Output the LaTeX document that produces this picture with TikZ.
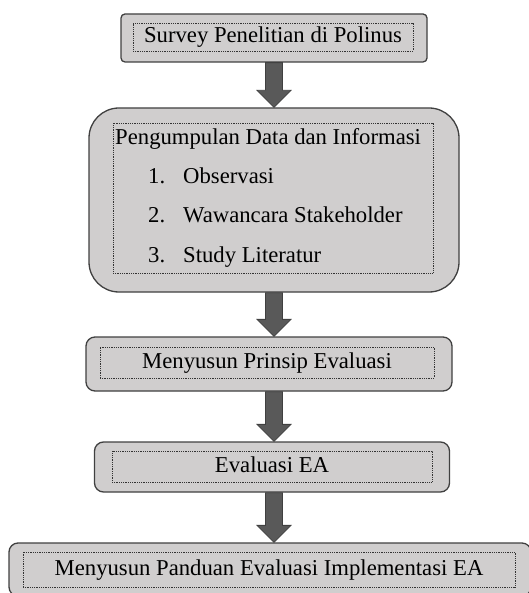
\documentclass[tikz,border=0pt]{standalone}
\usepackage{fontspec}
\setmainfont{Liberation Serif}
\usetikzlibrary{calc}

\definecolor{boxgray}{HTML}{D0CECE}
\definecolor{edgegray}{HTML}{404040}
\definecolor{arrowgray}{HTML}{595959}

% block arrow from the bottom of one box to the top of the next
\newcommand{\flowarrow}[2]{%
  \coordinate (tail) at (#1.south -| spine);
  \coordinate (tip) at (#2.north -| spine);
  \filldraw[blockarrow] ($(tail)+(-8.5,0)$) -- ($(tip)+(-8.5,-17)$) -- ($(tip)+(-17,-17)$) -- (tip)
    -- ($(tip)+(17,-17)$) -- ($(tip)+(8.5,-17)$) -- ($(tail)+(8.5,0)$) -- cycle;}

\begin{document}
\begin{tikzpicture}[x=1pt, y=-1pt,
    outerbox/.style={draw=edgegray, line width=1.3pt, fill=boxgray, rounded corners=9pt, inner sep=0pt},
    dotbox/.style={draw=black!80, densely dotted, line width=0.8pt, inner sep=0pt, text height=16pt, text depth=5pt},
    blockarrow/.style={fill=arrowgray, draw=edgegray, line width=0.8pt},
    font=\fontsize{22.7}{27}\selectfont]
  \useasboundingbox (0,0) rectangle (528,593);
  \coordinate (spine) at (274,0);

  % Boxes
  \node[outerbox, rounded corners=4pt, minimum width=306pt, minimum height=48pt] (survey) at (274,38) {};
  \node[dotbox, minimum width=280pt, minimum height=28pt] (survey-in) at (273,37) {Survey Penelitian di Polinus};

  \node[outerbox, rounded corners=30pt, minimum width=370pt, minimum height=184pt] (data) at (274,200) {};
  \node[dotbox, minimum width=320pt, minimum height=150pt] (data-in) at (273,198) {};
  \node[anchor=base west, inner sep=0pt] (data-title) at (115,145) {Pengumpulan Data dan Informasi};
  \foreach \txt [count=\n] in {Observasi, Wawancara Stakeholder, Study Literatur} {
    \node[anchor=base west, inner sep=0pt] (num-\n) at (148,145+39*\n) {\n.};
    \node[anchor=base west, inner sep=0pt] (item-\n) at (183,145+39*\n) {\txt};
  }

  \node[outerbox, minimum width=366pt, minimum height=54pt] (prinsip) at (269,364) {};
  \node[dotbox, minimum width=334pt, minimum height=31pt] (prinsip-in) at (267,362.5) {Menyusun Prinsip Evaluasi};

  \node[outerbox, minimum width=355pt, minimum height=50pt] (evaluasi) at (272,467) {};
  \node[dotbox, minimum width=320pt, minimum height=31pt] (evaluasi-in) at (272,466.5) {Evaluasi EA};

  \node[outerbox, minimum width=522pt, minimum height=53pt] (panduan) at (270,569.5) {};
  \node[dotbox, minimum width=492pt, minimum height=35pt] (panduan-in) at (269,569.5) {Menyusun Panduan Evaluasi Implementasi EA};

  % Arrows
  \flowarrow{survey}{data}
  \flowarrow{data}{prinsip}
  \flowarrow{prinsip}{evaluasi}
  \flowarrow{evaluasi}{panduan}
\end{tikzpicture}
\end{document}
